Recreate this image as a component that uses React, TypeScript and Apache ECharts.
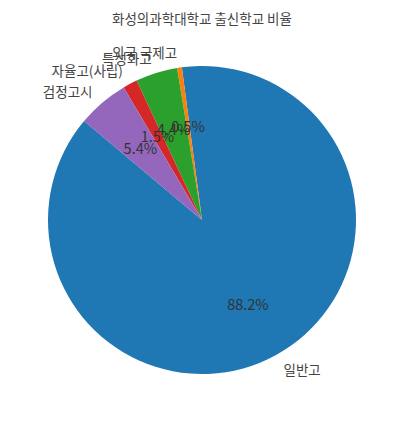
import React, { useEffect, useRef } from "react";
import * as echarts from "echarts";

const categories = ["일반고", "외국 국제고", "특성화고", "자율고(사립)", "검정고시"];
const percents = [88.2, 0.5, 4.4, 1.5, 5.4];
const colors = ["#1f77b4", "#ff7f0e", "#2ca02c", "#d62728", "#9467bd"];
const titleText = "화성의과학대학교 출신학교 비율";

const FONT = "'Noto Sans CJK KR', 'Noto Sans', sans-serif";

export default function App() {
  const ref = useRef<HTMLDivElement>(null);
  useEffect(() => {
    document.body.style.margin = "0";
    const chart = echarts.init(ref.current!, null, { renderer: "svg" });
    const R = 154;
    const cx = 202;
    const cy = 220;
    const data = categories.map((name, i) => ({
      name,
      value: percents[i],
      itemStyle: { color: colors[i] },
    }));
    chart.setOption({
      animation: false,
      backgroundColor: "#ffffff",
      title: {
        text: titleText,
        left: "center",
        top: 6,
        textStyle: { fontFamily: FONT, fontSize: 13.5, fontWeight: "normal", color: "#444" },
      },
      series: [
        {
          type: "pie",
          center: [cx, cy],
          radius: R,
          startAngle: 140,
          clockwise: false,
          avoidLabelOverlap: false,
          silent: true,
          data,
          label: {
            show: true,
            position: "outside",
            formatter: "{b}",
            fontFamily: FONT,
            fontSize: 13.5,
            color: "#444",
            distanceToLabelLine: 0,
          },
          labelLine: { show: false, length: R * 0.1, length2: 0 },
          labelLayout: { hideOverlap: false },
          emphasis: { disabled: true },
        },
        {
          type: "pie",
          center: [cx, cy],
          radius: [0, R * 1.2],
          startAngle: 140,
          clockwise: false,
          avoidLabelOverlap: false,
          silent: true,
          data: categories.map((name, i) => ({ name, value: percents[i] })),
          itemStyle: { color: "rgba(0,0,0,0)" },
          label: {
            show: true,
            position: "inside",
            formatter: (p: any) => p.value.toFixed(1) + "%",
            fontFamily: FONT,
            fontSize: 14.5,
            color: "#333",
          },
          labelLine: { show: false },
          labelLayout: { hideOverlap: false },
          emphasis: { disabled: true },
        },
      ],
    });
    return () => chart.dispose();
  }, []);
  return <div ref={ref} style={{ width: 404, height: 423 }} />;
}
